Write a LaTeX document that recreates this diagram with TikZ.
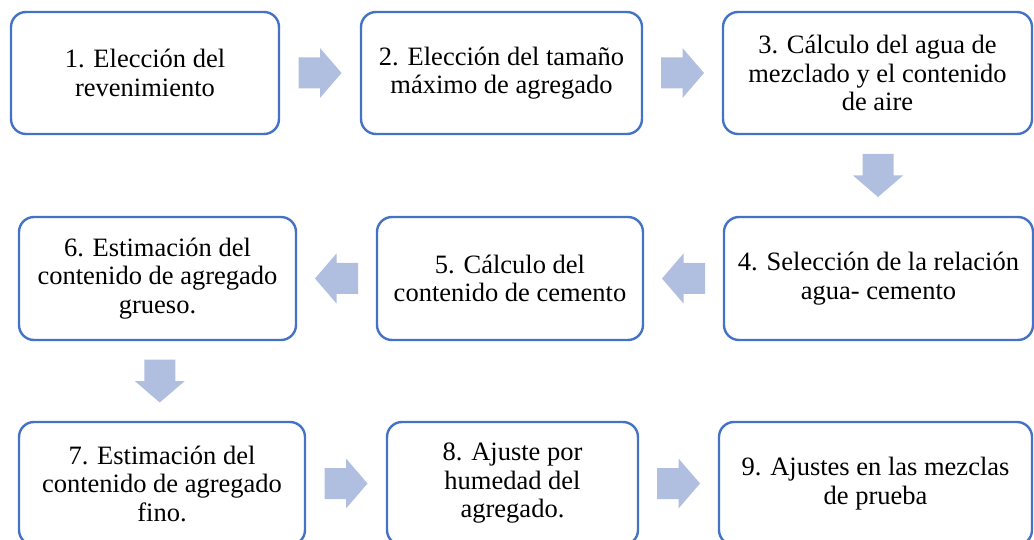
\documentclass[tikz,border=0pt]{standalone}
\usepackage{fontspec}
\setmainfont{Liberation Serif}
\usetikzlibrary{calc}
\definecolor{borde}{HTML}{4472C4}
\definecolor{relleno}{HTML}{B0BEDF}
\tikzset{
  caja/.style={draw=borde, line width=2.4pt, fill=white, rounded corners=15pt,
    align=center, inner sep=0pt, font=\fontsize{26.5}{28.5}\selectfont},
  flecha/.pic={\fill[relleno] (-21.5,-15.5) -- (0,-15.5) -- (0,-25) -- (21.5,0)
    -- (0,25) -- (0,15.5) -- (-21.5,15.5) -- cycle;}
}
\begin{document}
\begin{tikzpicture}[x=1pt,y=-1pt]
\useasboundingbox (0,0) rectangle (1034,540);

\node[caja, minimum width=268pt, minimum height=122pt] (paso1) at (145,73)
  {1. Elección del\\revenimiento};
\node[caja, minimum width=281pt, minimum height=122pt] (paso2) at (501.5,73)
  {2. Elección del tamaño\\máximo de agregado};
\node[caja, minimum width=309pt, minimum height=122pt] (paso3) at (877.5,73)
  {3. Cálculo del agua de\\mezclado y el contenido\\de aire};

\node[caja, minimum width=309pt, minimum height=123pt] (paso4) at (878.5,278.5)
  {4. Selección de la relación\\agua- cemento};
\node[caja, minimum width=266pt, minimum height=123pt] (paso5) at (510,278.5)
  {5. Cálculo del\\contenido de cemento};
\node[caja, minimum width=277pt, minimum height=123pt] (paso6) at (157.5,278.5)
  {6. Estimación del\\contenido de agregado\\grueso.};

\node[caja, minimum width=286pt, minimum height=123pt] (paso7) at (162,483.5)
  {7. Estimación del\\contenido de agregado\\fino.};
\node[caja, minimum width=251pt, minimum height=123pt] (paso8) at (512.5,483.5)
  {8. Ajuste por\\humedad del\\agregado.};
\node[caja, minimum width=313pt, minimum height=123pt] (paso9) at (875.5,483.5)
  {9. Ajustes en las mezclas\\de prueba};

\pic at ($(paso1.east)!.5!(paso2.west)$) {flecha};
\pic at ($(paso2.east)!.5!(paso3.west)$) {flecha};
\pic[rotate=-90] at ($(paso3.south)!.5!(paso4.north)$) {flecha};
\pic[rotate=180] at ($(paso4.west)!.5!(paso5.east)$) {flecha};
\pic[rotate=180] at ($(paso5.west)!.5!(paso6.east)$) {flecha};
\pic[rotate=-90] at ($(paso6.south)!.5!(paso7.north)$) {flecha};
\pic at ($(paso7.east)!.5!(paso8.west)$) {flecha};
\pic at ($(paso8.east)!.5!(paso9.west)$) {flecha};
\end{tikzpicture}
\end{document}
